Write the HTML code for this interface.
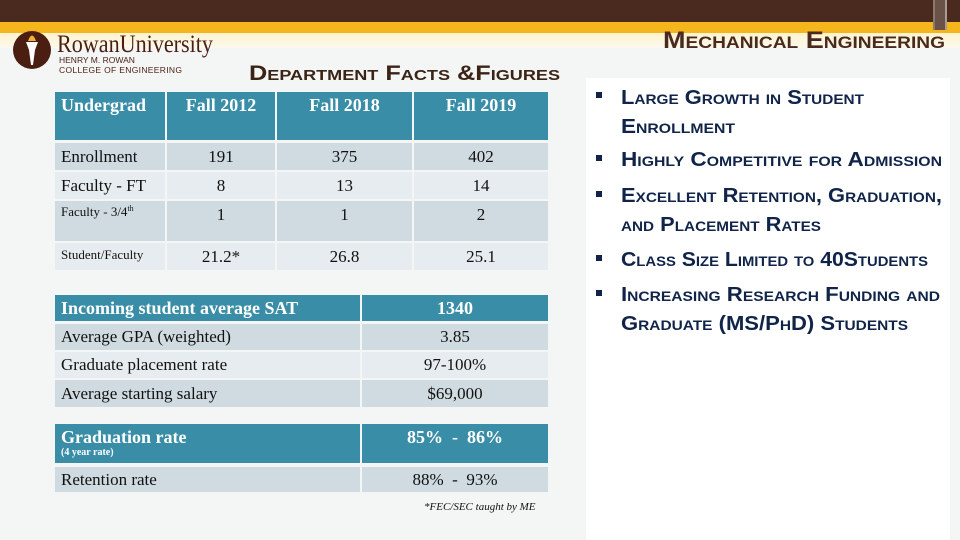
<!DOCTYPE html>
<html><head><meta charset="utf-8">
<style>
*{margin:0;padding:0;box-sizing:border-box}
body{width:960px;height:540px;overflow:hidden;background:#f4f5f5;position:relative;font-family:"Liberation Serif",serif}
.abs{position:absolute}
.c{position:absolute;display:flex;align-items:center;font-size:17px;color:#111}
.hd{background:#3a8da7;color:#fff;font-weight:bold}
.dk{background:#cfdbe1}
.lt{background:#e6ecef}
.ctr{justify-content:center}
.pl{padding-left:6px}
</style></head><body>
<div class="abs" style="left:0;top:0;width:960px;height:22px;background:#4a2a1f"></div>
<div class="abs" style="left:0;top:22px;width:960px;height:11px;background:#f5b51c"></div>
<div class="abs" style="left:0;top:33px;width:960px;height:15px;background:linear-gradient(#fff3cf,#fbf8ee)"></div>
<div class="abs" style="left:933px;top:0;width:14px;height:30px;border-left:2px solid #8a7a70;border-right:2px solid #a89c94;background:#6a5248"></div>
<div class="abs" style="left:586px;top:78px;width:364px;height:462px;background:#fff"></div>

<svg class="abs" style="left:0;top:0" width="960" height="540">
<circle cx="32" cy="50" r="19" fill="#4a1f12"/>
<path d="M26 42 L38 42 L35 50 L33 65 L31 65 L29 50 Z" fill="#fff"/>
<path d="M28 41 Q32 30 36 41 Z" fill="#f0b23a"/>
<text x="57" y="52" font-family="Liberation Serif,serif" font-size="25" fill="#4a1f12" textLength="156" lengthAdjust="spacingAndGlyphs">RowanUniversity</text>
<text x="59" y="63" font-family="Liberation Sans,sans-serif" font-size="8.5" fill="#4a1f12">HENRY M. ROWAN</text>
<text x="59" y="73" font-family="Liberation Sans,sans-serif" font-size="8.5" fill="#4a1f12" textLength="123">COLLEGE OF ENGINEERING</text>
<text x="249" y="80" font-family="Liberation Sans,sans-serif" font-size="21" font-weight="bold" fill="#3b2416" style="font-variant:small-caps" textLength="311" lengthAdjust="spacingAndGlyphs">Department Facts &amp;Figures</text>
<text x="663" y="48" font-family="Liberation Sans,sans-serif" font-size="24" font-weight="bold" fill="#4a2a1f" style="font-variant:small-caps" textLength="282" lengthAdjust="spacingAndGlyphs">Mechanical Engineering</text>
<g font-family="Liberation Sans,sans-serif" font-size="20" font-weight="bold" fill="#10244a" style="font-variant:small-caps">
<rect x="596" y="92" width="6" height="6" fill="#10244a"/>
<text x="621" y="104" textLength="243" lengthAdjust="spacingAndGlyphs">Large Growth in Student</text>
<text x="621" y="133" textLength="114" lengthAdjust="spacingAndGlyphs">Enrollment</text>
<rect x="596" y="155" width="6" height="6" fill="#10244a"/>
<text x="621" y="166" textLength="321" lengthAdjust="spacingAndGlyphs">Highly Competitive for Admission</text>
<rect x="596" y="191" width="6" height="6" fill="#10244a"/>
<text x="621" y="202" textLength="321" lengthAdjust="spacingAndGlyphs">Excellent Retention, Graduation,</text>
<text x="621" y="231" textLength="200" lengthAdjust="spacingAndGlyphs">and Placement Rates</text>
<rect x="596" y="255" width="6" height="6" fill="#10244a"/>
<text x="621" y="266" textLength="307" lengthAdjust="spacingAndGlyphs">Class Size Limited to 40Students</text>
<rect x="596" y="290" width="6" height="6" fill="#10244a"/>
<text x="621" y="301" textLength="319" lengthAdjust="spacingAndGlyphs">Increasing Research Funding and</text>
<text x="621" y="330" textLength="287" lengthAdjust="spacingAndGlyphs">Graduate (MS/PhD) Students</text>
</g>
</svg>

<!-- Upper table -->
<div>
<div class="c hd pl" style="left:55px;top:92px;width:110px;height:48px;align-items:flex-start;padding-top:3px;font-size:18px">Undergrad</div>
<div class="c hd ctr" style="left:167px;top:92px;width:108px;height:48px;align-items:flex-start;padding-top:3px;font-size:18px">Fall 2012</div>
<div class="c hd ctr" style="left:277px;top:92px;width:135px;height:48px;align-items:flex-start;padding-top:3px;font-size:18px">Fall 2018</div>
<div class="c hd ctr" style="left:414px;top:92px;width:134px;height:48px;align-items:flex-start;padding-top:3px;font-size:18px">Fall 2019</div>

<div class="c dk pl" style="left:55px;top:143px;width:110px;height:27px">Enrollment</div>
<div class="c dk ctr" style="left:167px;top:143px;width:108px;height:27px">191</div>
<div class="c dk ctr" style="left:277px;top:143px;width:135px;height:27px">375</div>
<div class="c dk ctr" style="left:414px;top:143px;width:134px;height:27px">402</div>

<div class="c lt pl" style="left:55px;top:172px;width:110px;height:27px">Faculty - FT</div>
<div class="c lt ctr" style="left:167px;top:172px;width:108px;height:27px">8</div>
<div class="c lt ctr" style="left:277px;top:172px;width:135px;height:27px">13</div>
<div class="c lt ctr" style="left:414px;top:172px;width:134px;height:27px">14</div>

<div class="c dk pl" style="left:55px;top:201px;width:110px;height:40px;align-items:flex-start;padding-top:3px;font-size:13px">Faculty - 3/4<sup style="font-size:8px">th</sup></div>
<div class="c dk ctr" style="left:167px;top:201px;width:108px;height:40px;align-items:flex-start;padding-top:4px">1</div>
<div class="c dk ctr" style="left:277px;top:201px;width:135px;height:40px;align-items:flex-start;padding-top:4px">1</div>
<div class="c dk ctr" style="left:414px;top:201px;width:134px;height:40px;align-items:flex-start;padding-top:4px">2</div>

<div class="c lt pl" style="left:55px;top:243px;width:110px;height:27px;font-size:13px;align-items:flex-start;padding-top:4px">Student/Faculty</div>
<div class="c lt ctr" style="left:167px;top:243px;width:108px;height:27px">21.2*</div>
<div class="c lt ctr" style="left:277px;top:243px;width:135px;height:27px">26.8</div>
<div class="c lt ctr" style="left:414px;top:243px;width:134px;height:27px">25.1</div>
</div>

<!-- Lower table -->
<div>
<div class="c hd pl" style="left:55px;top:295px;width:305px;height:26px;font-size:18px">Incoming student average SAT</div>
<div class="c hd ctr" style="left:362px;top:295px;width:186px;height:26px;font-size:18px">1340</div>
<div class="c dk pl" style="left:55px;top:324px;width:305px;height:26px">Average GPA (weighted)</div>
<div class="c dk ctr" style="left:362px;top:324px;width:186px;height:26px">3.85</div>
<div class="c lt pl" style="left:55px;top:352px;width:305px;height:26px">Graduate placement rate</div>
<div class="c lt ctr" style="left:362px;top:352px;width:186px;height:26px">97-100%</div>
<div class="c dk pl" style="left:55px;top:380px;width:305px;height:27px">Average starting salary</div>
<div class="c dk ctr" style="left:362px;top:380px;width:186px;height:27px">$69,000</div>

<div class="c hd pl" style="left:55px;top:424px;width:305px;height:39px;flex-direction:column;align-items:flex-start;justify-content:flex-start;padding-top:3px;font-size:18px;line-height:20px">Graduation rate<span style="font-size:10px;line-height:11px">(4 year rate)</span></div>
<div class="c hd ctr" style="left:362px;top:424px;width:186px;height:39px;align-items:flex-start;padding-top:3px;font-size:18px;white-space:pre">85%  -  86%</div>
<div class="c dk pl" style="left:55px;top:467px;width:305px;height:25px">Retention rate</div>
<div class="c dk ctr" style="left:362px;top:467px;width:186px;height:25px;white-space:pre">88%  -  93%</div>
<div class="abs" style="left:424px;top:501px;font-size:11px;font-style:italic;color:#111">*FEC/SEC taught by ME</div>
</div>
</body></html>
